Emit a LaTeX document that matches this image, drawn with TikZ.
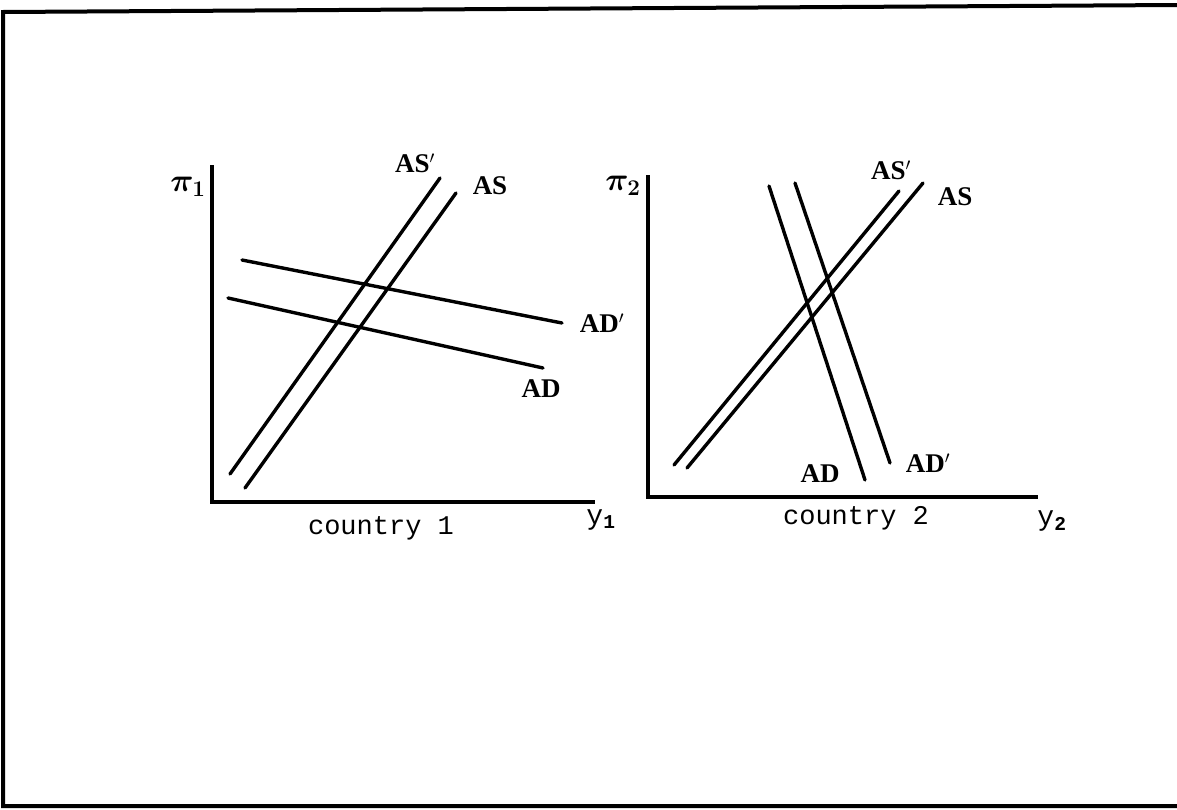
\documentclass[tikz,border=0pt]{standalone}
\usepackage{fontspec}
\setmonofont{Liberation Mono}
\newfontfamily\labfont{Liberation Serif}
\begin{document}
\begin{tikzpicture}[x=1pt,y=-1pt,
  curve/.style={line width=3.4pt,line cap=round},
  axis/.style={line width=3.8pt},
  frame/.style={line width=4pt},
  lab/.style={font=\labfont\bfseries\fontsize{27}{27}\selectfont,inner sep=0pt},
  caption/.style={font=\ttfamily\fontsize{27}{27}\selectfont,inner sep=0pt},
  sym/.style={font=\fontsize{26}{26}\selectfont\boldmath,inner sep=0pt,scale=1.3},
  yvar/.style={font=\ttfamily\fontsize{28}{28}\selectfont,inner sep=0pt}]
\useasboundingbox (0,0) rectangle (1177,809);
% frame
\coordinate (f1) at (1177,5);
\coordinate (f2) at (3,12);
\coordinate (f3) at (3,806);
\coordinate (f4) at (1177,806);
\draw[frame] (f1) -- (f2) -- (f3) -- (f4);
% ---------- country 1 ----------
\coordinate (o1) at (212,502);
\coordinate (ytop1) at (212,165);
\coordinate (xend1) at (595,502);
\draw[axis] (ytop1) -- (o1) -- (xend1);
\node[sym] (pi1) at (188,187) {$\pi_1$};
\node[yvar] (y1) at (601,520) {y\textsubscript{\bfseries 1}};
\node[caption] (c1) at (381,528) {country 1};
% AS curves
\coordinate (asp1a) at (230,474);
\coordinate (asp1b) at (440,178);
\coordinate (as1a) at (245,488);
\coordinate (as1b) at (456,193);
\draw[curve] (asp1a) -- (asp1b);
\draw[curve] (as1a) -- (as1b);
\node[lab] (asp1l) at (415,163) {AS$'$};
\node[lab] (as1l) at (490,186) {AS};
% AD curves
\coordinate (adp1a) at (242,260);
\coordinate (adp1b) at (562,323);
\coordinate (ad1a) at (228,298);
\coordinate (ad1b) at (543,368);
\draw[curve] (adp1a) -- (adp1b);
\draw[curve] (ad1a) -- (ad1b);
\node[lab] (adp1l) at (602,323) {AD$'$};
\node[lab] (ad1l) at (541,389) {AD};
% ---------- country 2 ----------
\coordinate (o2) at (648,497);
\coordinate (ytop2) at (648,175);
\coordinate (xend2) at (1038,497);
\draw[axis] (ytop2) -- (o2) -- (xend2);
\node[sym] (pi2) at (623,186) {$\pi_2$};
\node[yvar] (y2) at (1052,521) {y\textsubscript{\bfseries 2}};
\node[caption] (c2) at (856,518) {country 2};
% AS curves
\coordinate (asp2a) at (674,465);
\coordinate (asp2b) at (899,191);
\coordinate (as2a) at (687,468);
\coordinate (as2b) at (923,183);
\draw[curve] (asp2a) -- (asp2b);
\draw[curve] (as2a) -- (as2b);
\node[lab] (asp2l) at (891,170) {AS$'$};
\node[lab] (as2l) at (955,197) {AS};
% AD curves
\coordinate (ad2a) at (769,186);
\coordinate (ad2b) at (865,480);
\coordinate (adp2a) at (795,183);
\coordinate (adp2b) at (890,463);
\draw[curve] (ad2a) -- (ad2b);
\draw[curve] (adp2a) -- (adp2b);
\node[lab] (ad2l) at (820,474) {AD};
\node[lab] (adp2l) at (928,463) {AD$'$};
\end{tikzpicture}
\end{document}
